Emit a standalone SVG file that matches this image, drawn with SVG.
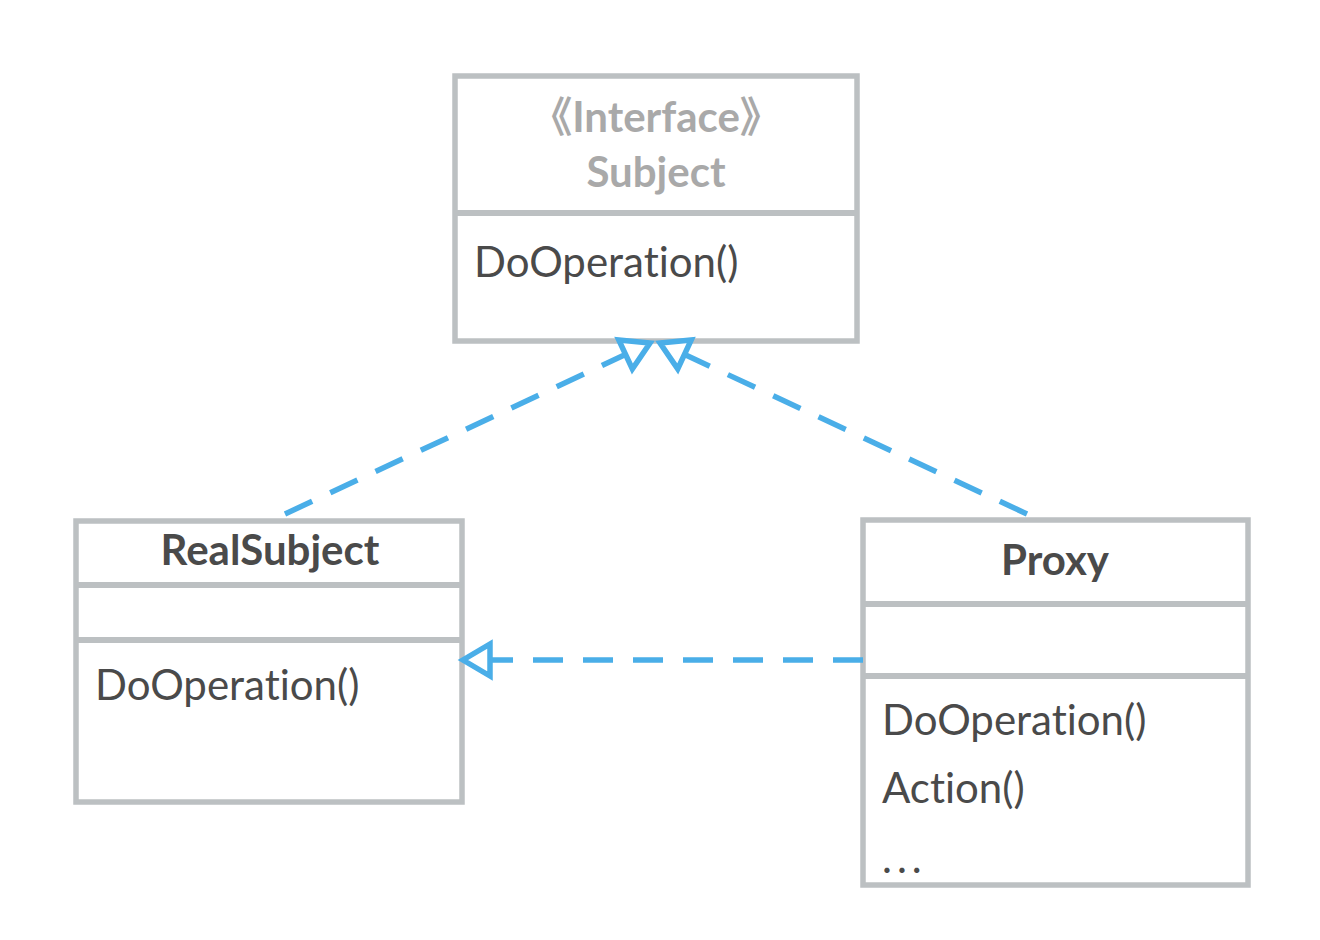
<svg xmlns="http://www.w3.org/2000/svg" width="1320" height="940" viewBox="0 0 1320 940">
<style>
.box{fill:#fff;stroke:#bcc0c2;stroke-width:5.5}
.div{stroke:#bcc0c2;stroke-width:6}
.t{font-family:Lato,"Noto Sans","Noto Sans CJK SC",sans-serif;font-size:42px;fill:#4a4a4a;font-variant-ligatures:none;font-feature-settings:"liga" 0}
.b{font-weight:bold;text-anchor:middle}
.g{fill:#a9a9a9}
.dots{letter-spacing:5px}
.conn{fill:none;stroke:#4aaee8;stroke-width:5.5;stroke-dasharray:30 20}
</style>
<defs>
<marker id="tri" markerUnits="userSpaceOnUse" viewBox="-8 -26 44 52" refX="27" refY="0" markerWidth="44" markerHeight="52" orient="auto">
<path d="M0,-16 L27,0 L0,16 Z" fill="#fff" stroke="#4aaee8" stroke-width="5.5"/>
</marker>
</defs>
<g id="subject">
<rect class="box" x="455" y="76" width="402" height="265"/>
<line class="div" x1="455" y1="213" x2="857" y2="213"/>
<text class="t b g" x="656" y="132">《Interface》</text>
<text class="t b g" x="656" y="187">Subject</text>
<text class="t" x="474" y="277">DoOperation()</text>
</g>
<g id="realsubject">
<rect class="box" x="76" y="521" width="386" height="281"/>
<line class="div" x1="76" y1="585" x2="462" y2="585"/>
<line class="div" x1="76" y1="640" x2="462" y2="640"/>
<text class="t b" x="270" y="565">RealSubject</text>
<text class="t" x="95" y="700">DoOperation()</text>
</g>
<g id="proxy">
<rect class="box" x="863" y="520" width="385" height="365"/>
<line class="div" x1="863" y1="604" x2="1248" y2="604"/>
<line class="div" x1="863" y1="676" x2="1248" y2="676"/>
<text class="t b" x="1055" y="575">Proxy</text>
<text class="t" x="882" y="735">DoOperation()</text>
<text class="t" x="882" y="803">Action()</text>
<text class="t dots" x="882" y="873">...</text>
</g>
<g id="connectors">
<path class="conn" d="M285,514 L650,343" marker-end="url(#tri)"/>
<path class="conn" d="M1027,514 L660,343" marker-end="url(#tri)"/>
<path class="conn" d="M863,660 L463,660" marker-end="url(#tri)"/>
</g>
</svg>
